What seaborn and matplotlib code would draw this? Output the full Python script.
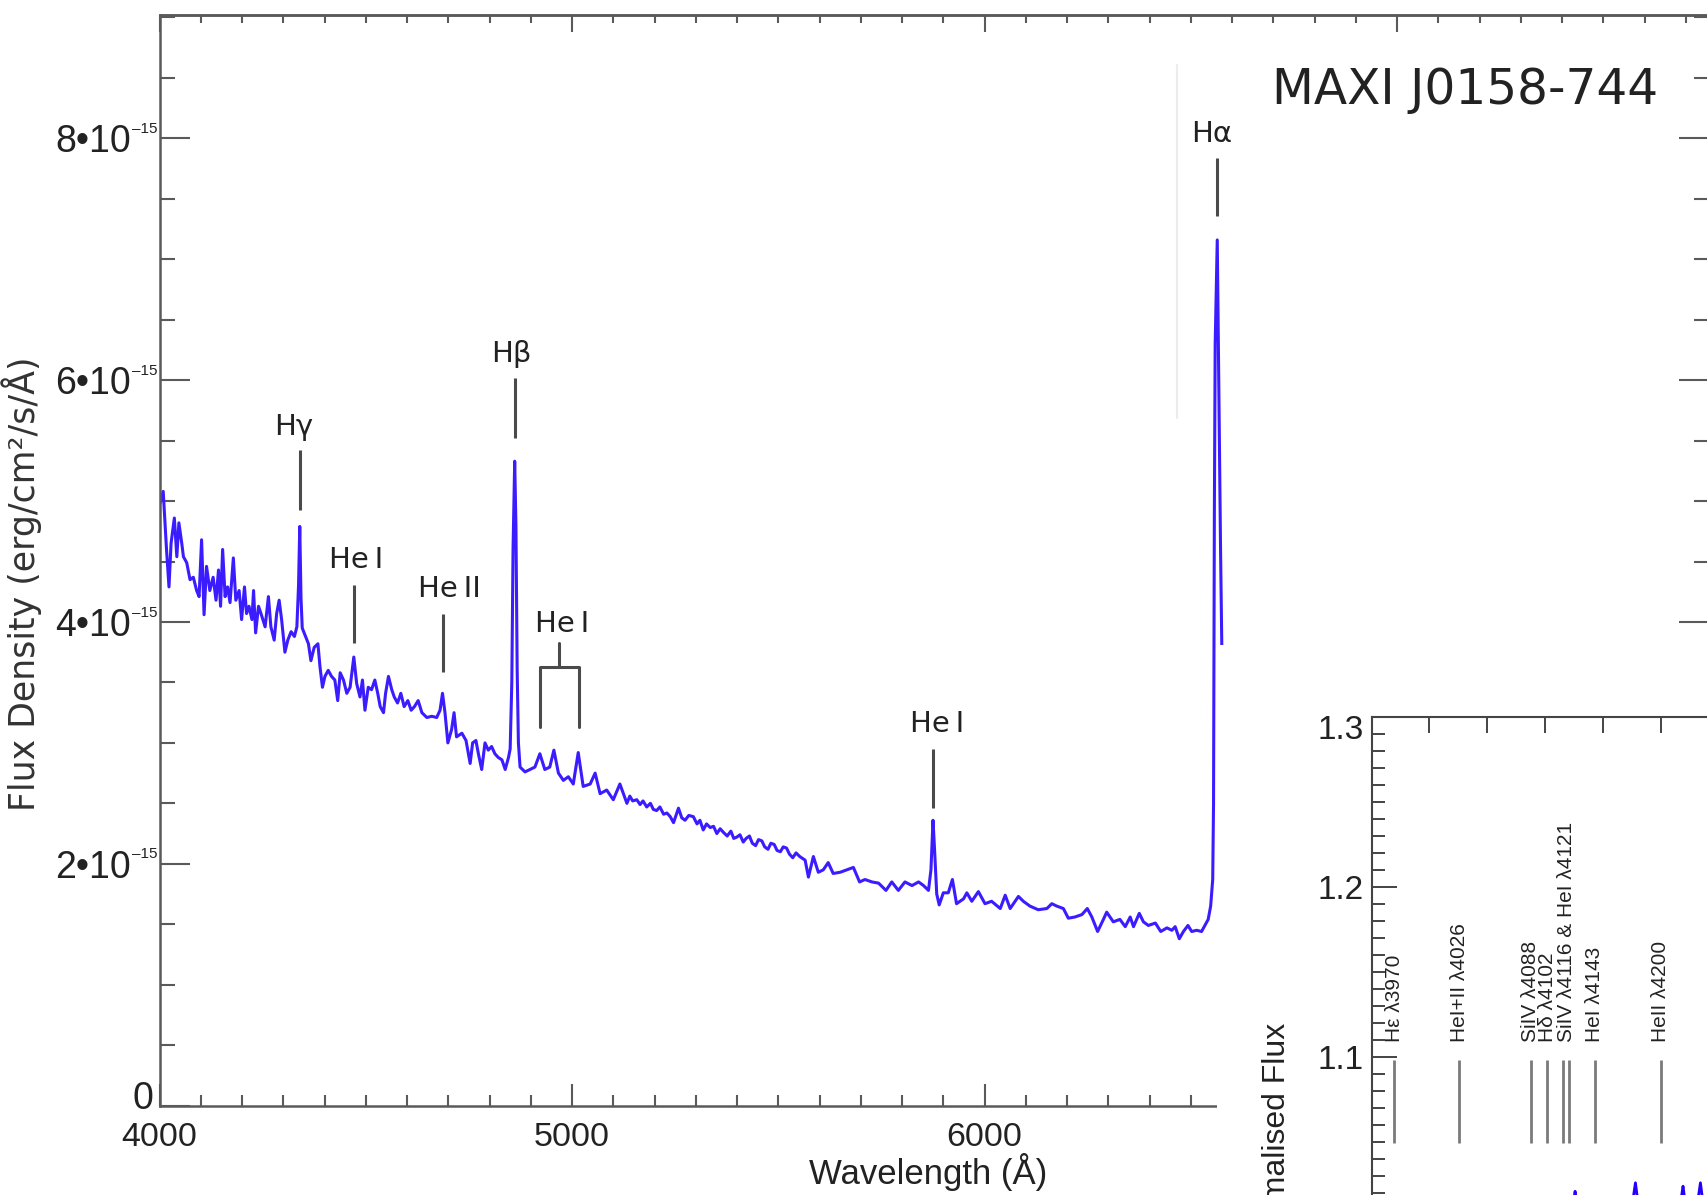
import matplotlib
matplotlib.use("Agg")
import matplotlib.pyplot as plt
import seaborn as sns
import pandas as pd
from matplotlib.ticker import MultipleLocator, FuncFormatter, NullFormatter
from matplotlib.patches import Rectangle

# ---------------- data ----------------
wavelength = [4001, 4009, 4017, 4023, 4028, 4036, 4042, 4047, 4054, 4058, 4066, 4074, 4082, 4090, 4096,
              4102, 4108, 4114, 4122, 4130, 4137, 4143, 4148, 4153, 4159, 4165, 4171, 4179, 4185, 4193,
              4199, 4206, 4211, 4217, 4224, 4228, 4233, 4240, 4246, 4256, 4264, 4270, 4278, 4284, 4290,
              4296, 4304, 4311, 4319, 4327, 4333, 4337, 4340, 4343, 4346, 4353, 4361, 4367, 4375, 4384,
              4389, 4395, 4401, 4409, 4417, 4425, 4432, 4438, 4446, 4454, 4462, 4471, 4478, 4486, 4492,
              4498, 4506, 4514, 4522, 4529, 4535, 4543, 4548, 4555, 4563, 4569, 4577, 4585, 4593, 4602,
              4610, 4618, 4627, 4636, 4648, 4660, 4672, 4680, 4686, 4692, 4699, 4708, 4714, 4720, 4733,
              4743, 4753, 4759, 4767, 4773, 4781, 4789, 4797, 4805, 4813, 4821, 4830, 4838, 4846, 4850,
              4854, 4857, 4861, 4864, 4867, 4870, 4874, 4886, 4898, 4910, 4922, 4934, 4946, 4956, 4967,
              4979, 4991, 5003, 5015, 5027, 5044, 5056, 5068, 5084, 5100, 5116, 5133, 5140, 5147, 5157,
              5165, 5172, 5181, 5190, 5197, 5205, 5213, 5222, 5230, 5238, 5246, 5252, 5258, 5266, 5274,
              5283, 5294, 5303, 5310, 5318, 5326, 5335, 5343, 5351, 5359, 5367, 5376, 5385, 5392, 5399,
              5407, 5415, 5422, 5430, 5437, 5445, 5452, 5460, 5467, 5475, 5482, 5490, 5497, 5505, 5512,
              5520, 5527, 5535, 5543, 5552, 5565, 5573, 5585, 5597, 5609, 5621, 5633, 5650, 5666, 5682,
              5697, 5710, 5727, 5743, 5761, 5775, 5791, 5807, 5824, 5840, 5852, 5864, 5870, 5875, 5879,
              5884, 5890, 5900, 5912, 5922, 5932, 5949, 5957, 5969, 5985, 6001, 6017, 6038, 6050, 6062,
              6082, 6094, 6110, 6130, 6151, 6163, 6175, 6191, 6203, 6219, 6236, 6249, 6260, 6274, 6288,
              6296, 6312, 6328, 6341, 6353, 6361, 6375, 6385, 6397, 6414, 6427, 6442, 6454, 6462, 6472,
              6482, 6493, 6502, 6514, 6526, 6537, 6542, 6548, 6553, 6555, 6557, 6559, 6564, 6568, 6572,
              6575, 6580, 6590, 6600]
flux = [4.98, 5.08, 4.60, 4.29, 4.65, 4.86, 4.54, 4.82, 4.65, 4.54, 4.49, 4.35, 4.37, 4.26, 4.21,
        4.68, 4.06, 4.46, 4.26, 4.37, 4.18, 4.43, 4.13, 4.60, 4.21, 4.29, 4.16, 4.53, 4.18, 4.26,
        4.02, 4.29, 4.07, 4.13, 4.02, 4.26, 3.91, 4.13, 4.07, 3.96, 4.21, 3.96, 3.85, 4.07, 4.18,
        4.02, 3.75, 3.85, 3.92, 3.88, 3.96, 4.30, 4.79, 4.20, 3.95, 3.89, 3.82, 3.68, 3.79, 3.82,
        3.63, 3.46, 3.55, 3.60, 3.55, 3.52, 3.35, 3.58, 3.52, 3.41, 3.46, 3.71, 3.49, 3.38, 3.52,
        3.27, 3.46, 3.44, 3.52, 3.41, 3.30, 3.25, 3.41, 3.55, 3.44, 3.38, 3.33, 3.41, 3.30, 3.35,
        3.27, 3.30, 3.35, 3.25, 3.21, 3.22, 3.21, 3.27, 3.41, 3.25, 3.00, 3.11, 3.25, 3.05, 3.08,
        3.02, 2.83, 3.00, 3.02, 2.91, 2.78, 3.00, 2.94, 2.97, 2.91, 2.88, 2.86, 2.78, 2.88, 2.95,
        3.50, 4.60, 5.33, 4.80, 3.60, 3.00, 2.80, 2.76, 2.78, 2.80, 2.91, 2.78, 2.80, 2.94, 2.75,
        2.69, 2.72, 2.66, 2.92, 2.64, 2.66, 2.75, 2.58, 2.61, 2.53, 2.66, 2.50, 2.56, 2.52, 2.53,
        2.49, 2.52, 2.47, 2.50, 2.45, 2.44, 2.47, 2.41, 2.42, 2.39, 2.34, 2.40, 2.46, 2.38, 2.36,
        2.40, 2.39, 2.33, 2.36, 2.28, 2.33, 2.30, 2.31, 2.25, 2.29, 2.26, 2.23, 2.27, 2.21, 2.22,
        2.24, 2.18, 2.21, 2.23, 2.17, 2.15, 2.20, 2.19, 2.14, 2.12, 2.17, 2.16, 2.11, 2.10, 2.14,
        2.13, 2.08, 2.05, 2.09, 2.06, 2.03, 1.89, 2.06, 1.93, 1.95, 2.01, 1.92, 1.93, 1.95, 1.97,
        1.85, 1.87, 1.85, 1.84, 1.78, 1.85, 1.78, 1.85, 1.82, 1.85, 1.82, 1.78, 1.95, 2.36, 2.10,
        1.75, 1.66, 1.76, 1.76, 1.87, 1.67, 1.71, 1.76, 1.69, 1.77, 1.67, 1.69, 1.63, 1.74, 1.63,
        1.73, 1.69, 1.65, 1.62, 1.63, 1.67, 1.65, 1.63, 1.55, 1.56, 1.58, 1.63, 1.56, 1.44, 1.54,
        1.60, 1.52, 1.54, 1.48, 1.56, 1.48, 1.59, 1.52, 1.49, 1.51, 1.44, 1.47, 1.45, 1.48, 1.38,
        1.44, 1.49, 1.44, 1.45, 1.44, 1.51, 1.54, 1.65, 1.87, 2.50, 4.90, 6.30, 7.16, 5.90, 4.60,
        3.81, 2.50, 1.60, 1.42]

# y tick values (units of 1e-15) and their exponent
ytick_values = [2, 4, 6, 8]
exponent_text = "\u201315"

# single line identifications (main panel)
line_names = ["H\u03b3", "He\u2009I", "He\u2009II", "H\u03b2", "He\u2009I", "H\u03b1"]
line_wl = [4340, 4471, 4686, 4861, 5876, 6563]
line_bottom = [4.93, 3.83, 3.59, 5.52, 2.46, 7.36]
line_top = [5.42, 4.31, 4.07, 6.02, 2.95, 7.84]
label_wl = [4326, 4476, 4704, 4852, 5885, 6551]
label_y = [5.61, 4.51, 4.27, 6.22, 3.16, 8.04]
# He I doublet bracket
doublet_wl = [4922, 5016]
doublet_name = "He\u2009I"

# inset: normalised spectrum and line marks
norm_wl = [3951, 3960, 3970, 3980, 3995, 4010, 4026, 4040, 4060, 4080, 4088, 4102, 4110, 4120,
           4123, 4126, 4129, 4135, 4143, 4155, 4165, 4172, 4175, 4178, 4181, 4186, 4195, 4200,
           4210, 4216, 4219, 4222, 4228, 4231, 4234, 4237, 4244, 4250]
norm_flux = [0.99, 0.985, 0.975, 0.99, 1.0, 1.005, 0.99, 1.0, 1.005, 1.0, 0.99, 0.97, 0.995, 1.005,
             1.008, 1.021, 1.006, 1.0, 0.99, 1.005, 1.01, 1.008, 1.012, 1.026, 1.01, 1.004, 1.0, 0.99,
             1.005, 1.01, 1.024, 1.008, 1.004, 1.012, 1.026, 1.01, 1.004, 1.01]
inset_line_wl = [3970, 4026, 4088, 4102, 4116, 4121, 4143, 4200]
inset_labels = ["H\u03b5 \u03bb3970", "HeI+II \u03bb4026", "SiIV \u03bb4088", "H\u03b4 \u03bb4102",
                "SiIV \u03bb4116 & HeI \u03bb4121", "HeI \u03bb4143", "HeII \u03bb4200"]
inset_label_wl = [3970, 4026, 4088, 4102, 4118.5, 4143, 4200]

# ---------------- style ----------------
sns.set_style("ticks")
SANS = "Liberation Sans"
plt.rcParams["font.family"] = ["DejaVu Sans"]

BLUE = "#3a1cff"
AXC = "#5a5a5a"
TXT = "#222222"

W, H = 1708, 1195
fig = plt.figure(figsize=(W / 100, H / 100), dpi=100)
fx = lambda px: px / W
fy = lambda py: 1 - py / H

AX_L, AX_R = 159.5, 1709
AX_W = AX_R - AX_L
ax = fig.add_axes([fx(AX_L), fy(1105.6), AX_W / W, (1105.6 - 15.3) / H], zorder=0)
df = pd.DataFrame({"wavelength": wavelength, "flux": flux})
sns.lineplot(data=df, x="wavelength", y="flux", ax=ax, color=BLUE, linewidth=2.2,
             estimator=None, sort=False, legend=False)
ax.set_xlim(4000, 7756)
ax.set_ylim(0, 9.018)
ax.set_xlabel("")
ax.set_ylabel("")

ax.xaxis.set_major_locator(MultipleLocator(1000))
ax.xaxis.set_minor_locator(MultipleLocator(100))
ax.yaxis.set_major_locator(MultipleLocator(2))
ax.yaxis.set_minor_locator(MultipleLocator(0.5))
ax.yaxis.set_major_formatter(FuncFormatter(
    lambda v, p: "" if abs(v) < 1e-9 else f"{int(round(v))}\u202210"))
ax.xaxis.set_major_formatter(FuncFormatter(lambda v, p: f"{int(v)}"))

ax.tick_params(axis="x", which="major", direction="in", length=16, width=1.5, color=AXC,
               bottom=True, top=False, pad=12, labelsize=24.5, labelcolor=TXT)
ax.tick_params(axis="x", which="minor", direction="in", length=8, width=1.5, color=AXC,
               bottom=True, top=False)
ax.tick_params(axis="y", which="major", direction="in", length=21.6, width=1.5, color=AXC,
               left=True, right=True, pad=20.5, labelsize=27, labelcolor=TXT)
ax.tick_params(axis="y", which="minor", direction="in", length=10.8, width=1.5, color=AXC,
               left=True, right=True)
for lab in ax.get_xticklabels() + ax.get_yticklabels():
    lab.set_family(SANS)
for s in ax.spines.values():
    s.set_color(AXC)
    s.set_linewidth(1.8)

# exponents of the y tick labels and the raised zero label
ytr = ax.get_yaxis_transform()
for v in ytick_values:
    ax.text((132 - AX_L) / AX_W, v + 0.135, exponent_text, transform=ytr, ha="left", va="top",
            fontsize=11, color=TXT, family=SANS, clip_on=False)
ax.text((153.5 - AX_L) / AX_W, 0.09, "0", transform=ytr, ha="right", va="center_baseline",
        fontsize=27, color=TXT, family=SANS, clip_on=False)

sec = ax.secondary_xaxis("top")
sec.xaxis.set_major_locator(MultipleLocator(1000))
sec.xaxis.set_minor_locator(MultipleLocator(100))
sec.xaxis.set_major_formatter(NullFormatter())
sec.tick_params(axis="x", which="major", direction="in", length=12, width=1.5, color=AXC)
sec.tick_params(axis="x", which="minor", direction="in", length=6, width=1.5, color=AXC)
sec.spines["top"].set_color(AXC)
sec.spines["top"].set_linewidth(1.8)

# line identifications
for name, wl, yb, yt, lx, ly in zip(line_names, line_wl, line_bottom, line_top, label_wl, label_y):
    ax.plot([wl, wl], [yb, yt], color="#4a4a4a", lw=2.2, solid_capstyle="butt")
    ax.text(lx, ly, name, ha="center", va="center", fontsize=21, color=TXT)
mid = sum(doublet_wl) / 2
ax.plot([doublet_wl[0], doublet_wl[0], doublet_wl[1], doublet_wl[1]], [3.13, 3.63, 3.63, 3.13],
        color="#4a4a4a", lw=2.2)
ax.plot([mid, mid], [3.63, 3.83], color="#4a4a4a", lw=2.2)
ax.text(4976, 3.98, doublet_name, ha="center", va="center", fontsize=21, color=TXT)

# faint residual edge line
fig.add_artist(plt.Line2D([fx(1177), fx(1177)], [fy(65), fy(418)], color="#ececec", lw=1.5))

# white panel covering lower right
fig.add_artist(Rectangle((fx(1217), 0), 1 - fx(1217), fy(645), transform=fig.transFigure,
                         facecolor="white", edgecolor="none", zorder=1.5))

fig.text(fx(1272), fy(103.5), "MAXI J0158-744", ha="left", va="baseline", fontsize=35,
         color=TXT, family="DejaVu Sans")
fig.text(fx(22), fy(584), "Flux Density (erg/cm\u00b2/s/\u00c5)", rotation=90, ha="center",
         va="center", fontsize=25, color="#333333", family="DejaVu Sans")
fig.text(fx(928), fy(1172), "Wavelength (\u00c5)", ha="center", va="center", fontsize=25,
         color=TXT, family=SANS)

# ---------------- inset ----------------
INS_W = 347
ins = fig.add_axes([fx(1372), fy(1312), INS_W / W, 595 / H], zorder=2)
ins.set_facecolor("white")
dn = pd.DataFrame({"wavelength": norm_wl, "flux": norm_flux})
sns.lineplot(data=dn, x="wavelength", y="flux", ax=ins, color="#2200ff", linewidth=2.0,
             estimator=None, sort=False, legend=False)
ins.set_xlim(3951, 4250)
ins.set_ylim(0.95, 1.3)
ins.set_xlabel("")
ins.set_ylabel("")
ins.xaxis.set_major_locator(MultipleLocator(50))
ins.yaxis.set_major_locator(MultipleLocator(0.1))
ins.yaxis.set_minor_locator(MultipleLocator(0.01))
ins.yaxis.set_major_formatter(FuncFormatter(lambda v, p: "" if v > 1.25 else f"{v:.1f}"))
ins.tick_params(axis="x", which="major", direction="in", length=11.5, width=1.4, color="#444444",
                top=True, bottom=False, labelbottom=False, labeltop=False)
ins.tick_params(axis="y", which="major", direction="in", length=18, width=1.4, color="#444444",
                left=True, right=False, pad=6, labelsize=24, labelcolor=TXT)
ins.tick_params(axis="y", which="minor", direction="in", length=9, width=1.4, color="#444444",
                left=True, right=False)
for lab in ins.get_yticklabels():
    lab.set_family(SANS)
for s in ins.spines.values():
    s.set_color("#444444")
    s.set_linewidth(1.5)
ins.text(-8.3 / INS_W, 1.294, "1.3", transform=ins.get_yaxis_transform(), ha="right",
         va="center_baseline", fontsize=24, color=TXT, family=SANS, clip_on=False)
for wl in inset_line_wl:
    ins.plot([wl, wl], [1.0494, 1.0982], color="#7a7a7a", lw=2.0, solid_capstyle="butt")
for lab, wl in zip(inset_labels, inset_label_wl):
    ins.text(wl, 1.109, lab, rotation=90, ha="center", va="bottom", fontsize=15,
             color=TXT, family=SANS)
fig.text(fx(1277), fy(1023), "Normalised Flux", rotation=90, ha="center", va="top",
         fontsize=23, color=TXT, family=SANS, zorder=5)

fig.savefig("out.png", dpi=100)
